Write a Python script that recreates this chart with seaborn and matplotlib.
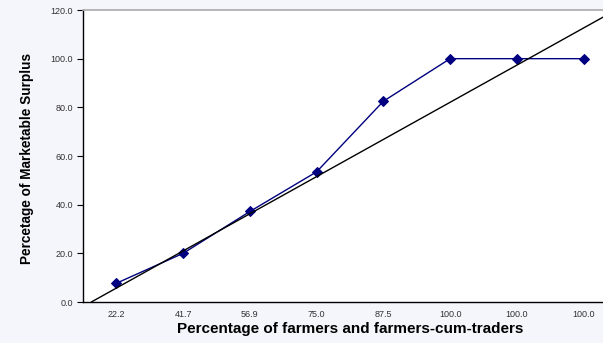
import matplotlib
matplotlib.use("Agg")
import matplotlib.pyplot as plt
import seaborn as sns

# cumulative shares
farmer_labels = ["22.2", "41.7", "56.9", "75.0", "87.5", "100.0", "100.0", "100.0"]
surplus_pct = [7.7, 20.0, 37.2, 53.5, 82.5, 100.0, 100.0, 100.0]

# reference (equality) line, in category-position units
equality_pos = [-0.375, 7.3]
equality_val = [0.0, 117.2]

sns.set_style("white")
plt.rcParams["font.family"] = ["Liberation Sans", "DejaVu Sans"]

fig = plt.figure(figsize=(6.03, 3.43), dpi=100)
fig.patch.set_facecolor("#f5f5fc")
ax = fig.add_axes([83 / 603, 1 - 302 / 343, 534 / 603, 292 / 343])
ax.set_facecolor("white")

pos = list(range(len(farmer_labels)))
sns.lineplot(x=pos, y=surplus_pct, ax=ax, color="#000080", linewidth=1,
             marker="D", markersize=5, markeredgecolor="#000080", sort=False)
sns.lineplot(x=equality_pos, y=equality_val, ax=ax, color="black", linewidth=1)

ax.set_xlim(-0.5, len(farmer_labels) - 0.5)
ax.set_ylim(0, 120)
ax.set_yticks(range(0, 121, 20))
ax.set_yticklabels([f"{v:.1f}" for v in range(0, 121, 20)], fontsize=6.5, color="#333333")
ax.set_xticks(pos)
ax.set_xticklabels(farmer_labels, fontsize=6.5, color="#333333")
ax.set_xticks([p + 0.5 for p in pos[:-1]], minor=True)
ax.tick_params(axis="x", which="major", length=0, pad=6)
ax.tick_params(axis="x", which="minor", length=4, width=0.8, color="black", direction="out")
ax.tick_params(axis="y", length=4, width=0.8, color="black", direction="out", left=True, pad=3)

ax.spines["right"].set_visible(False)
ax.spines["top"].set_color("#aaaaaa")
ax.spines["top"].set_linewidth(1.2)
for s in ["left", "bottom"]:
    ax.spines[s].set_color("black")
    ax.spines[s].set_linewidth(1)

ax.set_xlabel("Percentage of farmers and farmers-cum-traders", fontsize=11,
              fontweight="bold", color="black")
ax.set_ylabel("Percetage of Marketable Surplus", fontsize=9.8, fontweight="bold", color="black")
ax.xaxis.set_label_coords((350 - 83) / 534, -(329 - 302) / 292)
ax.yaxis.set_label_coords(-(83 - 27) / 534, (302 - 159) / 292)
ax.xaxis.label.set_va("center")
ax.yaxis.label.set_va("center")

fig.savefig("out.png", dpi=100, facecolor=fig.get_facecolor())
